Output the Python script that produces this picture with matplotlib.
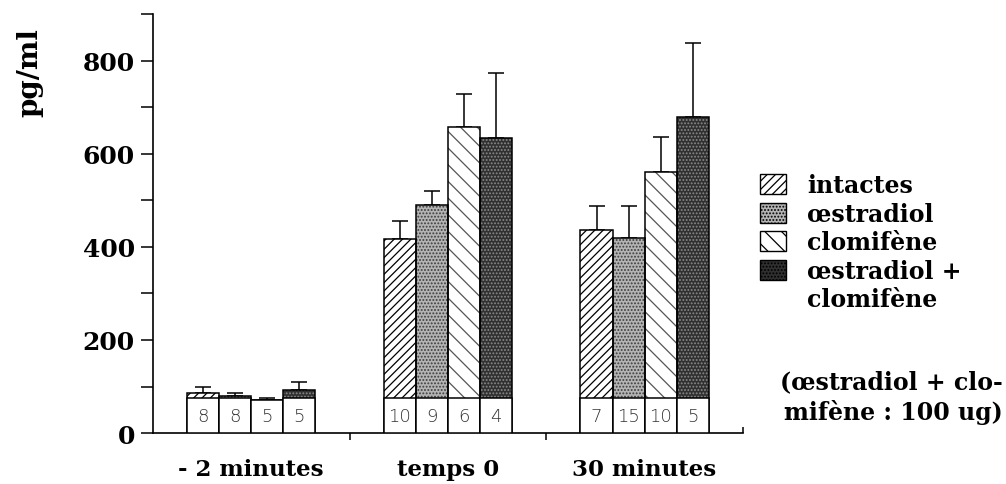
import numpy as np
import matplotlib
matplotlib.use('Agg')
import matplotlib.pyplot as plt
from matplotlib.patches import Patch

plt.rcParams['font.family'] = ['DejaVu Serif']
plt.rcParams['hatch.linewidth'] = 0.9

# data (pg/ml), upper error bars only
groups = ['- 2 minutes', 'temps 0', '30 minutes']
series = ['intactes', 'œstradiol', 'clomifène', 'œstradiol +', 'clomifène']

intactes = [86, 417, 436]
oestradiol = [79, 490, 419]
clomifene = [70, 657, 560]
combine = [92, 634, 679]

err_intactes = [13, 38, 52]
err_oestradiol = [7, 30, 69]
err_clomifene = [5, 71, 76]
err_combine = [18, 139, 159]

n_intactes = [8, 10, 7]
n_oestradiol = [8, 9, 15]
n_clomifene = [5, 6, 10]
n_combine = [5, 4, 5]

values = [intactes, oestradiol, clomifene, combine]
errors = [err_intactes, err_oestradiol, err_clomifene, err_combine]
counts = [n_intactes, n_oestradiol, n_clomifene, n_combine]

# fill styles: (facecolor, hatch, hatch colour)
styles = [('white', '////', 'black'),
          ('#b4b4b4', '.....', '#3c3c3c'),
          ('white', '\\\\', '#555555'),
          ('#303030', '.....', '#8a8a8a')]

box_top = 75  # white box holding the n at the foot of each bar
width = 0.163

fig = plt.figure(figsize=(10.06, 4.85), dpi=100)
ax = fig.add_axes([0.152, 0.105, 0.5865, 0.864])

centers = np.arange(len(groups)) + 0.5
for i, (vals, errs, ns, (fc, hatch, hc)) in enumerate(zip(values, errors, counts, styles)):
    x = centers + (i - 1.5) * width
    vals = np.array(vals)
    low = np.minimum(vals, box_top)
    upper = np.clip(vals - box_top, 0, None)
    ax.bar(x, upper, width, bottom=box_top, color=fc, hatch=hatch,
           edgecolor=hc, linewidth=0, zorder=2)
    ax.bar(x, vals, width, fill=False, edgecolor='black', linewidth=1.1, zorder=3)
    ax.bar(x, low, width, color='white', edgecolor='black', linewidth=1.1, zorder=3)
    ax.errorbar(x, vals, yerr=[np.zeros(len(errs)), errs], fmt='none',
                ecolor='black', elinewidth=1.1, capsize=6, capthick=1.1, zorder=1)
    for xi, n in zip(x, ns):
        ax.text(xi, box_top / 2, str(n), ha='center', va='center',
                fontsize=13, family='DejaVu Sans', fontweight='light',
                color='#333333', zorder=4)

ax.set_xlim(0, len(groups))
ax.set_ylim(0, 900)
for s in ['top', 'right']:
    ax.spines[s].set_visible(False)
ax.spines['left'].set_linewidth(1.2)
ax.spines['bottom'].set_linewidth(1.2)

ax.set_yticks([0, 200, 400, 600, 800])
ax.set_yticks(np.arange(100, 901, 200), minor=True)
ax.tick_params(axis='y', which='both', direction='out', length=9, width=1.1,
               labelsize=18, pad=4)
for lab in ax.get_yticklabels():
    lab.set_fontweight('bold')

ax.set_xticks(centers)
ax.set_xticklabels(groups, fontsize=16.5, fontweight='bold')
ax.set_xticks(np.arange(1, len(groups)), minor=True)
ax.tick_params(axis='x', which='major', length=0, pad=18)
ax.tick_params(axis='x', which='minor', direction='out', length=5, width=1.1)
ax.vlines(len(groups), 0, 12, color='black', linewidth=1.1, clip_on=False)

ax.set_ylabel('pg/ml', fontsize=20, fontweight='bold')
ax.yaxis.set_label_coords(-0.186, 0.862)

handles = [Patch(facecolor=fc, hatch=h, edgecolor='black', linewidth=1)
           for fc, h, hc in styles]
handles.append(Patch(facecolor='none', edgecolor='none'))
fig.legend(handles, series, loc='upper left', bbox_to_anchor=(0.746, 0.66),
           frameon=False, prop={'size': 17, 'weight': 'bold'},
           handlelength=1.1, handleheight=0.95, handletextpad=0.9,
           labelspacing=0.19, borderaxespad=0)

fig.text(0.997, 0.18, '(œstradiol + clo-\nmifène : 100 ug)', ha='right', va='center',
         fontsize=17, fontweight='bold', linespacing=1.3)

fig.savefig('out.png', dpi=100)
